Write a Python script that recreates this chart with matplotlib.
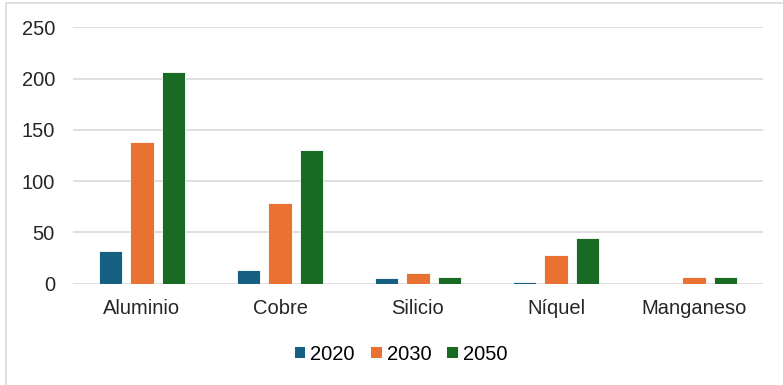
import matplotlib
matplotlib.use("Agg")
import matplotlib.pyplot as plt
import numpy as np
from matplotlib.patches import Rectangle, Patch

categories = ["Aluminio", "Cobre", "Silicio", "Níquel", "Manganeso"]
series_names = ["2020", "2030", "2050"]
values_2020 = [32, 13, 6, 2, 0]
values_2030 = [138, 79, 10, 28, 7]
values_2050 = [206, 130, 7, 45, 7]
colors = ["#156082", "#E97132", "#196B24"]
y_ticks = [0, 50, 100, 150, 200, 250]

plt.rcParams["font.family"] = ["Liberation Sans", "DejaVu Sans"]

W, H = 783, 385
fig = plt.figure(figsize=(W / 100, H / 100), dpi=100)
ax = fig.add_axes([73 / W, 1 - 283.7 / H, (763 - 73) / W, (283.7 - 27.3) / H])

x = np.arange(len(categories))
bar_w = 0.167
step = 0.225
all_values = [values_2020, values_2030, values_2050]
for i, (vals, col) in enumerate(zip(all_values, colors)):
    ax.bar(x + (i - 1) * step, vals, width=bar_w, color=col,
           edgecolor="white", linewidth=0.6, zorder=3, label=series_names[i])

ax.set_xlim(-0.5, len(categories) - 0.5)
ax.set_ylim(0, 250)
ax.set_yticks(y_ticks)
ax.set_xticks(x)
ax.set_xticklabels(categories)
ax.tick_params(axis="both", length=0, labelsize=14.5, colors="#262626")
ax.tick_params(axis="y", pad=13)
ax.tick_params(axis="x", pad=11)
ax.grid(axis="y", color="#D9D9D9", linewidth=1.2, zorder=0)
for s in ax.spines.values():
    s.set_visible(False)

handles = [Patch(facecolor=c, edgecolor="none") for c in colors]
fig.legend(handles, series_names, loc="center", bbox_to_anchor=(401 / W, 1 - 354 / H),
           ncol=3, frameon=False, fontsize=14.5, handlelength=0.53, handleheight=0.45,
           handletextpad=0.25, columnspacing=0.8, borderpad=0)

# outer chart border
fig.patches.append(Rectangle((6 / W, -0.05), 1.1, 1 - 2.7 / H + 0.05,
                             transform=fig.transFigure, fill=False,
                             edgecolor="#D9D9D9", linewidth=1.2))

fig.savefig("out.png", dpi=100, facecolor="white")
